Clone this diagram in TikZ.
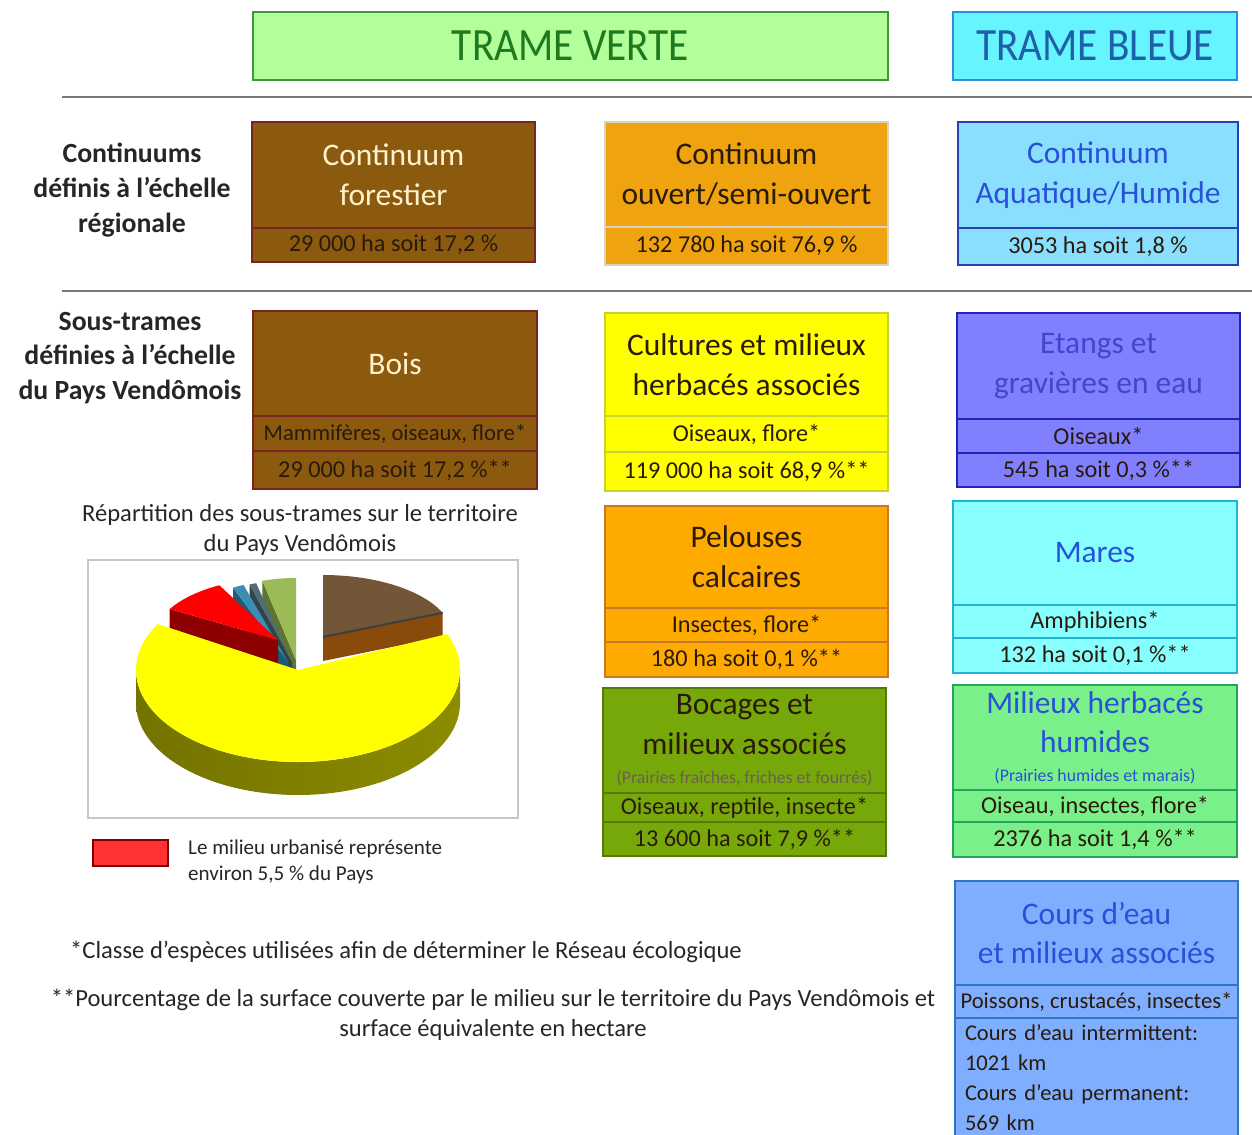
\documentclass[tikz,border=0pt]{standalone}
\usepackage{fontspec}
\setmainfont{Carlito}
\usepackage{tikz}
\usetikzlibrary{positioning}
\definecolor{tvfill}{HTML}{B3FF99}
\definecolor{tvline}{HTML}{3A9A3A}
\definecolor{tvtext}{HTML}{1F7A1F}
\definecolor{tbfill}{HTML}{66F5FF}
\definecolor{tbline}{HTML}{2A8FDD}
\definecolor{tbtext}{HTML}{2060A8}
\definecolor{brnfill}{HTML}{8C5A0F}
\definecolor{brnline}{HTML}{7B2323}
\definecolor{cream}{HTML}{FFF2CC}
\definecolor{orfill}{HTML}{EFA30F}
\definecolor{orline}{HTML}{D9D2C0}
\definecolor{aqfill}{HTML}{8ADFFF}
\definecolor{aqline}{HTML}{2A3FB5}
\definecolor{bltext}{HTML}{2850D8}
\definecolor{ylfill}{HTML}{FFFF00}
\definecolor{ylline}{HTML}{C8D232}
\definecolor{etfill}{HTML}{8080FF}
\definecolor{etline}{HTML}{2222BB}
\definecolor{ettext}{HTML}{4444CC}
\definecolor{plfill}{HTML}{FFAA00}
\definecolor{plline}{HTML}{C8782A}
\definecolor{bcfill}{HTML}{77A80A}
\definecolor{bcline}{HTML}{567A0A}
\definecolor{mrfill}{HTML}{88FFFF}
\definecolor{mrline}{HTML}{22B2D5}
\definecolor{hmfill}{HTML}{7AF08A}
\definecolor{hmline}{HTML}{22A55A}
\definecolor{crfill}{HTML}{7FAEFF}
\definecolor{crline}{HTML}{2F75C0}
\definecolor{dktext}{HTML}{2A1A0A}
\definecolor{rulegray}{HTML}{777777}
\definecolor{urbfill}{HTML}{FF3333}
\definecolor{urbline}{HTML}{800000}
\definecolor{pbrn}{HTML}{735637}
\definecolor{pbrnside}{HTML}{8A4A0C}
\definecolor{pgrn}{HTML}{9BBB59}
\definecolor{pgrnside}{HTML}{5E7430}
\definecolor{pteal}{HTML}{4E6E73}
\definecolor{ptealside}{HTML}{2F4549}
\definecolor{pblu}{HTML}{3C8DB4}
\definecolor{pbluside}{HTML}{1F5A78}
\definecolor{pred}{HTML}{FF0000}
\definecolor{predside}{HTML}{8E0000}
\newcommand\subsize{\fontsize{10.1}{12}\selectfont}

\begin{document}
\begin{tikzpicture}[x=0.02cm,y=-0.02cm,
  hd/.style={draw,line width=1.4pt,outer sep=0pt,inner sep=0pt,
             font=\fontsize{23.5}{28}\selectfont},
  cell/.style 2 args={outer sep=0pt,inner sep=1pt,line width=1.3pt,align=center,
             minimum width={#1*0.02cm},minimum height={#2*0.02cm}},
  tt/.style={font=\fontsize{17.9}{22.7}\selectfont},
  sm/.style={font=\fontsize{13.8}{16}\selectfont,text=dktext},
  tight/.style={font=\fontsize{12.9}{16}\selectfont},
  lab/.style={font=\bfseries\fontsize{15.8}{19.8}\selectfont,align=center,text=black!85},
  fn/.style={font=\fontsize{14}{17}\selectfont,text=black!85},
  rl/.style={draw=rulegray,line width=1.7pt},
  brn/.style={draw=brnline,fill=brnfill},
  nw/.style={anchor=north west}
]
\path[use as bounding box,clip] (0,0) rectangle (1252,1135);

% headers
\node[hd,draw=tvline,fill=tvfill,text=tvtext,minimum width={635*0.02cm},
      minimum height={68*0.02cm}] (tv) at (570.5,46) {\scalebox{1}[1.12]{TRAME VERTE}};
\node[hd,draw=tbline,fill=tbfill,text=tbtext,minimum width={284*0.02cm},
      minimum height={68*0.02cm}] (tb) at (1095,46) {\scalebox{1}[1.12]{TRAME BLEUE}};
\draw[rl] (62,97) -- (1252,97);
\draw[rl] (62,291) -- (1252,291);

% row labels
\node[lab] (lcont) at (132,190) {Continuums\\définis à l'échelle\\régionale};
\node[lab] (lsous) at (130,358) {Sous-trames\\définies à l'échelle\\du Pays Vendômois};

% continuums
\node[cell={283}{106},brn,tt,text=cream,nw] (forT) at (252,122) {Continuum\\forestier};
\node[cell={283}{34},brn,sm,below=0pt of forT] (forB) {29 000 ha soit 17,2 \%};
\node[cell={283}{105},draw=orline,fill=orfill,tt,text=dktext,nw] (ouvT) at (605,122)
  {Continuum\\ouvert/semi-ouvert};
\node[cell={283}{38},draw=orline,fill=orfill,sm,below=0pt of ouvT] (ouvB) {132 780 ha soit 76,9 \%};
\node[cell={280}{106},draw=aqline,fill=aqfill,tt,text=bltext,nw] (aquT) at (958,122)
  {Continuum\\Aquatique/Humide};
\node[cell={280}{37},draw=aqline,fill=aqfill,sm,below=0pt of aquT] (aquB) {3053 ha soit 1,8 \%};

% sous-trames, trame verte
\node[cell={284}{105},brn,tt,text=cream,nw] (boisT) at (253,311) {Bois};
\node[cell={284}{35},brn,sm,tight,below=0pt of boisT] (boisM) {Mammifères, oiseaux, flore*};
\node[cell={284}{38},brn,sm,below=0pt of boisM] (boisB) {29 000 ha soit 17,2 \%**};

\node[cell={283}{103},draw=ylline,fill=ylfill,tt,text=dktext,nw] (culT) at (605,313)
  {Cultures et milieux\\herbacés associés};
\node[cell={283}{36},draw=ylline,fill=ylfill,sm,below=0pt of culT] (culM) {Oiseaux, flore*};
\node[cell={283}{39},draw=ylline,fill=ylfill,sm,below=0pt of culM] (culB) {119 000 ha soit 68,9 \%**};

\node[cell={283}{102},draw=plline,fill=plfill,tt,text=dktext,nw] (pelT) at (605,506)
  {Pelouses\\calcaires};
\node[cell={283}{34},draw=plline,fill=plfill,sm,below=0pt of pelT] (pelM) {Insectes, flore*};
\node[cell={283}{35},draw=plline,fill=plfill,sm,below=0pt of pelM] (pelB) {180 ha soit 0,1 \%**};

\node[cell={283}{105},draw=bcline,fill=bcfill,tt,text=dktext,nw] (bocT) at (603,688)
  {Bocages et\\milieux associés\\[-6pt]{\subsize\color{dktext!70}(Prairies fraîches, friches et fourrés)}};
\node[cell={283}{29},draw=bcline,fill=bcfill,sm,below=0pt of bocT] (bocM) {Oiseaux, reptile, insecte*};
\node[cell={283}{34},draw=bcline,fill=bcfill,sm,below=0pt of bocM] (bocB) {13 600 ha soit 7,9 \%**};

% sous-trames, trame bleue
\node[cell={283}{106},draw=etline,fill=etfill,tt,text=ettext,nw] (etgT) at (957,313)
  {Etangs et\\gravières en eau};
\node[cell={283}{34},draw=etline,fill=etfill,sm,below=0pt of etgT] (etgM) {Oiseaux*};
\node[cell={283}{34},draw=etline,fill=etfill,sm,below=0pt of etgM] (etgB) {545 ha soit 0,3 \%**};

\node[cell={284}{104},draw=mrline,fill=mrfill,tt,text=bltext,nw] (marT) at (953,501) {Mares};
\node[cell={284}{33},draw=mrline,fill=mrfill,sm,below=0pt of marT] (marM) {Amphibiens*};
\node[cell={284}{35},draw=mrline,fill=mrfill,sm,below=0pt of marM] (marB) {132 ha soit 0,1 \%**};

\node[cell={284}{105},draw=hmline,fill=hmfill,tt,text=bltext,nw] (humT) at (953,685)
  {Milieux herbacés\\humides\\[-6.5pt]{\subsize(Prairies humides et marais)}};
\node[cell={284}{32},draw=hmline,fill=hmfill,sm,below=0pt of humT] (humM) {Oiseau, insectes, flore*};
\node[cell={284}{35},draw=hmline,fill=hmfill,sm,below=0pt of humM] (humB) {2376 ha soit 1,4 \%**};

\node[cell={283}{104},draw=crline,fill=crfill,tt,text=bltext,nw] (crsT) at (955,881)
  {Cours d'eau\\et milieux associés};
\node[cell={283}{33},draw=crline,fill=crfill,sm,tight,below=0pt of crsT] (crsM)
  {Poissons, crustacés, insectes*};
\node[cell={283}{119},draw=crline,fill=crfill,font=\fontsize{12.8}{17.2}\selectfont,text=dktext,
      align=left,inner xsep=0.2cm,text width={263*0.02cm},below=0pt of crsM] (crsB)
  {Cours d'eau intermittent:\\1021 km\\Cours d'eau permanent:\\569 km};

% pie chart
\node[fn,align=center] (ptit) at (300,530)
  {Répartition des sous-trames sur le territoire\\du Pays Vendômois};
\draw[black!22,line width=0.8pt] (88,560) rectangle (518,818);
\begin{scope}[shift={(298,670)},yscale=-1]
  \foreach \ox/\oy/\aa/\ab/\rx/\ry/\fa/\ct/\cf in
    {25/33/23/90/130/62/23/pbrn/pbrnside,
     -2/10/90/105/130/82/105/pgrn/pgrnside,
     -6/8/106/109/130/82/109/pteal/ptealside,
     -10/8/110/115/130/82/115/pblu/pbluside,
     -20/30/118/150/125/62/150/pred/predside}
  {\fill[\cf] (\ox,\oy) -- ++({\rx*cos(\fa)},{\ry*sin(\fa)}) -- ++(0,-24)
       -- ++({-\rx*cos(\fa)},{-\ry*sin(\fa)}) -- cycle;
   \fill[\ct] (\ox,\oy) -- ++({\rx*cos(\aa)},{\ry*sin(\aa)})
       arc[start angle=\aa,end angle=\ab,x radius=\rx,y radius=\ry] -- cycle;}
  \draw[black!75,line width=1.2pt] (25,33) -- ++({130*cos(23)},{62*sin(23)});
  \shade[left color=yellow!45!black,middle color=yellow!82!black,right color=yellow!55!black]
    (-162,0) arc[start angle=180,end angle=360,x radius=162,y radius=92]
    -- ++(0,-33) arc[start angle=360,end angle=180,x radius=162,y radius=92] -- cycle;
  \fill[ylfill] (0,0) -- ({162*cos(150)},{92*sin(150)})
    arc[start angle=150,end angle=383,x radius=162,y radius=92] -- cycle;
\end{scope}

% legend and notes
\node[cell={75}{26},draw=urbline,fill=urbfill,line width=1.2pt,nw] (urbk) at (93,840) {};
\node[fn,font=\fontsize{12}{14.7}\selectfont,align=left,anchor=west] (urbt) at (182,862)
  {Le milieu urbanisé représente\\environ 5,5 \% du Pays};
\node[fn,anchor=west] (fn1) at (64,952)
  {*Classe d'espèces utilisées afin de déterminer le Réseau écologique};
\node[fn,align=center] (fn2) at (493,1015)
  {**Pourcentage de la surface couverte par le milieu sur le territoire du Pays Vendômois et\\
   surface équivalente en hectare};
\end{tikzpicture}
\end{document}
